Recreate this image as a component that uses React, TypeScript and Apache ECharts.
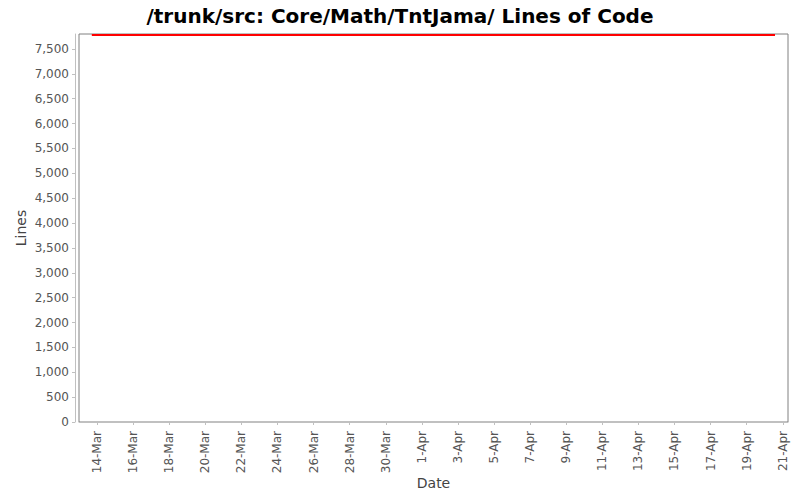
import { useEffect, useRef } from 'react';
import * as echarts from 'echarts';

// days are counted from 0-Mar (so 1-Apr = 32)
const tickLabels = [
  '14-Mar', '16-Mar', '18-Mar', '20-Mar', '22-Mar', '24-Mar', '26-Mar', '28-Mar', '30-Mar',
  '1-Apr', '3-Apr', '5-Apr', '7-Apr', '9-Apr', '11-Apr', '13-Apr', '15-Apr', '17-Apr', '19-Apr', '21-Apr',
];
const lineDays = [13.71, 51.57];
const lineValues = [7780, 7780];
const yTicks = [0, 500, 1000, 1500, 2000, 2500, 3000, 3500, 4000, 4500, 5000, 5500, 6000, 6500, 7000, 7500];

const labelToDay = (label: string) => {
  const [d, m] = label.split('-');
  return Number(d) + (m === 'Apr' ? 31 : 0);
};
const tickDays = tickLabels.map(labelToDay);

const font = '"DejaVu Sans", sans-serif';

export default function App() {
  const chartRef = useRef<HTMLDivElement>(null);

  useEffect(() => {
    if (!chartRef.current) return;
    const chart = echarts.init(chartRef.current, null, { renderer: 'svg' });

    const option: echarts.EChartsOption = {
      animation: false,
      backgroundColor: '#ffffff',
      title: {
        text: '/trunk/src: Core/Math/TntJama/ Lines of Code',
        left: 'center',
        top: 1,
        textStyle: {
          fontFamily: font,
          fontSize: 20,
          fontWeight: 'bold',
          color: '#000000',
        },
      },
      grid: {
        left: 79,
        top: 34,
        right: 12,
        bottom: 78,
        show: true,
        borderColor: '#808080',
        borderWidth: 1,
        backgroundColor: '#ffffff',
      },
      xAxis: {
        type: 'value',
        min: 13.0,
        max: 52.29,
        offset: 4,
        name: 'Date',
        nameLocation: 'middle',
        nameGap: 50,
        nameMoveOverlap: false,
        nameTextStyle: { fontFamily: font, fontSize: 14, color: '#444444' },
        axisLine: { show: true, lineStyle: { color: '#c0c0c0', width: 1 } },
        axisTick: {
          show: true,
          length: 3,
          lineStyle: { color: '#c0c0c0' },
          customValues: tickDays,
        },
        axisLabel: {
          rotate: 90,
          margin: 5,
          fontFamily: font,
          fontSize: 12,
          color: '#555555',
          customValues: tickDays,
          formatter: (v: number) => tickLabels[tickDays.indexOf(Math.round(v))] ?? '',
        },
        splitLine: { show: false },
      },
      yAxis: {
        type: 'value',
        min: 0,
        max: 7800,
        offset: 4,
        name: 'Lines',
        nameLocation: 'middle',
        nameGap: 47,
        nameMoveOverlap: false,
        nameTextStyle: { fontFamily: font, fontSize: 14, color: '#444444' },
        axisLine: { show: true, lineStyle: { color: '#c0c0c0', width: 1 } },
        axisTick: {
          show: true,
          length: 3,
          lineStyle: { color: '#c0c0c0' },
          customValues: yTicks,
        },
        axisLabel: {
          margin: 6,
          fontFamily: font,
          fontSize: 12,
          color: '#555555',
          customValues: yTicks,
          formatter: (v: number) => v.toLocaleString('en-US'),
        },
        splitLine: { show: false },
      },
      series: [
        {
          type: 'line',
          data: lineDays.map((d, i) => [d, lineValues[i]]),
          symbol: 'none',
          lineStyle: { color: '#ff0000', width: 2 },
        },
      ],
    } as echarts.EChartsOption;

    chart.setOption(option);
    return () => chart.dispose();
  }, []);

  return <div ref={chartRef} style={{ width: 800, height: 500, margin: -8 }} />;
}
